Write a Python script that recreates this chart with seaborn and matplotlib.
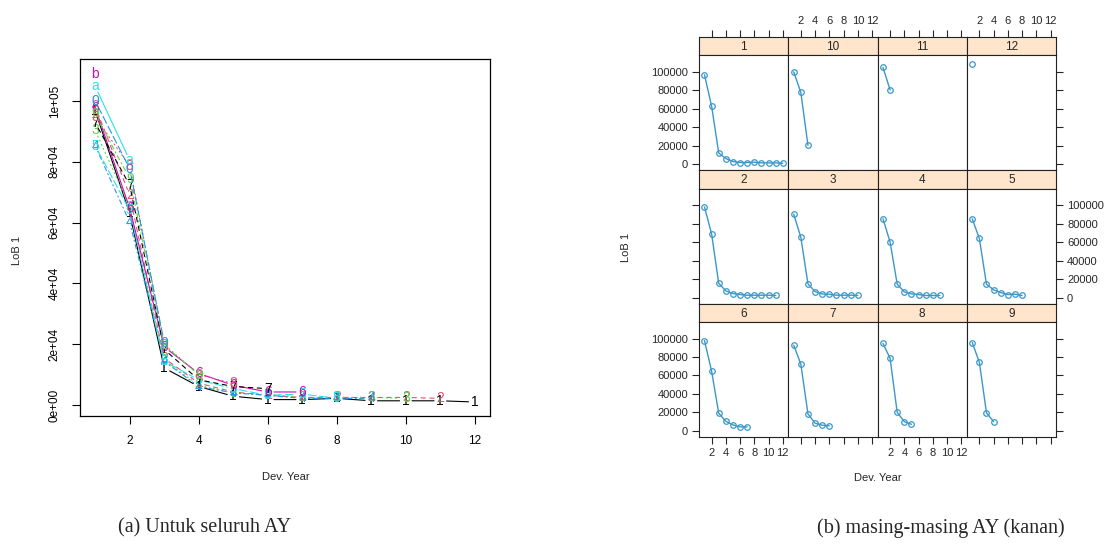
import numpy as np
import pandas as pd
import matplotlib
matplotlib.use("Agg")
import matplotlib.pyplot as plt
import seaborn as sns

# ---------------- data ----------------
accident_years = ["1", "2", "3", "4", "5", "6", "7", "8", "9", "10", "11", "12"]
dev_years = list(range(1, 13))
ay1 = [96800, 63000, 12200, 6100, 2900, 1800, 1800, 2200, 1400, 1400, 1400, 1000]
ay2 = [98200, 69000, 15400, 7200, 4300, 3200, 2500, 2500, 2500, 2500, 2200]
ay3 = [90300, 65200, 14700, 6500, 3900, 3600, 2500, 2500, 2500, 2200]
ay4 = [85300, 60100, 14400, 6100, 4000, 3200, 2200, 2200, 2200]
ay5 = [85300, 64000, 14400, 8300, 5400, 3200, 3600, 2200]
ay6 = [97800, 64700, 19100, 10400, 6500, 4300, 4300]
ay7 = [92800, 72300, 18300, 8300, 6100, 5400]
ay8 = [94700, 78600, 19900, 10000, 7100]
ay9 = [95700, 74400, 19600, 10000]
ay10 = [100000, 77700, 20500]
ay11 = [104800, 80500]
ay12 = [109000]
series = [ay1, ay2, ay3, ay4, ay5, ay6, ay7, ay8, ay9, ay10, ay11, ay12]
point_chars = ["1", "2", "3", "4", "5", "6", "7", "8", "9", "0", "a", "b"]

x_ticks = [2, 4, 6, 8, 10, 12]
y_ticks = [0, 20000, 40000, 60000, 80000, 100000]
y_labels_left = ["0e+00", "2e+04", "4e+04", "6e+04", "8e+04", "1e+05"]
y_labels_lattice = ["0", "20000", "40000", "60000", "80000", "100000"]
panel_order = [["1", "10", "11", "12"], ["2", "3", "4", "5"], ["6", "7", "8", "9"]]

# ---------------- style ----------------
sns.set_style("ticks")
plt.rcParams["font.family"] = ["Liberation Sans", "DejaVu Sans"]

rows = []
for ay, vals in zip(accident_years, series):
    for d, v in zip(dev_years, vals):
        rows.append({"AY": ay, "Dev": d, "Value": v})
df = pd.DataFrame(rows)

W, H = 1110, 552
fig = plt.figure(figsize=(W / 100, H / 100), dpi=100)
fig.patch.set_facecolor("white")


def box(l, t, r, b):
    return [l / W, 1 - b / H, (r - l) / W, (b - t) / H]


# ---------------- left: matplot-like ----------------
axL = fig.add_axes(box(80, 59, 490, 416))
r_palette = ["#000000", "#DF536B", "#61D04F", "#2297E6", "#28E2E5", "#CD0BBC"]
r_ltys = ["-", (0, (4, 4)), (0, (1, 3)), (0, (1, 3, 4, 3)), (0, (7, 3))]
axL.set_xlim(0.56, 12.44)
axL.set_ylim(-3600, 113800)

for i, (ay, vals) in enumerate(zip(accident_years, series)):
    col = r_palette[i % 6]
    lty = r_ltys[i % 5]
    xs = dev_years[:len(vals)]
    for k in range(len(vals) - 1):
        axL.annotate("", xy=(xs[k + 1], vals[k + 1]), xytext=(xs[k], vals[k]),
                     xycoords="data", textcoords="data",
                     arrowprops=dict(arrowstyle="-", shrinkA=4.5, shrinkB=4.5,
                                     color=col, lw=0.8, linestyle=lty))
    for x, v in zip(xs, vals):
        axL.text(x, v, point_chars[i], color=col, fontsize=10,
                 ha="center", va="center")

axL.set_xticks(x_ticks)
axL.set_xticklabels([str(t) for t in x_ticks], fontsize=8.5)
axL.set_yticks(y_ticks)
axL.set_yticklabels(y_labels_left, fontsize=8.5, rotation=90, va="center")
axL.tick_params(axis="x", direction="out", length=6, width=0.8, pad=8, colors="black")
axL.tick_params(axis="y", direction="out", length=6, width=0.8, pad=8, colors="black")
for s in axL.spines.values():
    s.set_visible(True)
    s.set_color("black")
    s.set_linewidth(0.9)
axL.set_xlabel("")
axL.set_ylabel("")

fig.text(286 / W, 1 - 477 / H, "Dev. Year", fontsize=8, ha="center", va="center")
fig.text(17 / W, 1 - 250 / H, "LoB 1", fontsize=8, ha="center", va="center", rotation=90)

# ---------------- right: lattice-like panels ----------------
lat_col = "#3a98c8"
strip_col = "#FFE5CC"
left0, right0 = 699, 1056
pw = (right0 - left0) / 4
top0 = 37
row_h = 400 / 3
strip_h = 18.3
xlim_p = (0.23, 12.77)
ylim_p = (-6660, 118000)

for r in range(3):
    for c in range(4):
        ay = panel_order[r][c]
        l = left0 + c * pw
        t = top0 + r * row_h
        axS = fig.add_axes(box(l, t, l + pw, t + strip_h))
        axP = fig.add_axes(box(l, t + strip_h, l + pw, t + row_h))

        # strip
        axS.set_facecolor(strip_col)
        axS.set_xlim(*xlim_p)
        axS.set_ylim(0, 1)
        axS.set_yticks([])
        axS.text(0.5, 0.45, ay, transform=axS.transAxes, ha="center", va="center",
                 fontsize=8.5)
        if r == 0:
            axS.set_xticks(x_ticks)
            axS.set_xticklabels([str(tk) for tk in x_ticks], fontsize=8)
            axS.tick_params(axis="x", top=True, bottom=False, labeltop=(c in (1, 3)),
                            labelbottom=False, direction="out", length=5, width=0.8, pad=3)
        else:
            axS.set_xticks([])
        for s in axS.spines.values():
            s.set_color("#222222")
            s.set_linewidth(0.8)

        # panel
        sub = df[df["AY"] == ay]
        sns.lineplot(data=sub, x="Dev", y="Value", ax=axP, color=lat_col, lw=1,
                     marker="o", markersize=4, markerfacecolor="none",
                     markeredgecolor=lat_col, markeredgewidth=0.9, legend=False)
        axP.set_xlim(*xlim_p)
        axP.set_ylim(*ylim_p)
        axP.set_xlabel("")
        axP.set_ylabel("")
        axP.set_xticks(x_ticks)
        axP.set_xticklabels([str(tk) for tk in x_ticks], fontsize=8)
        axP.set_yticks(y_ticks)
        axP.set_yticklabels(y_labels_lattice, fontsize=8)
        axP.tick_params(axis="x", bottom=(r == 2), top=False,
                        labelbottom=(r == 2 and c in (0, 2)), labeltop=False,
                        direction="out", length=5, width=0.8, pad=3)
        axP.tick_params(axis="y", left=(c == 0), right=(c == 3),
                        labelleft=(c == 0 and r in (0, 2)),
                        labelright=(c == 3 and r == 1),
                        direction="out", length=5, width=0.8, pad=3)
        for s in axP.spines.values():
            s.set_visible(True)
            s.set_color("#222222")
            s.set_linewidth(0.8)

fig.text(878 / W, 1 - 478 / H, "Dev. Year", fontsize=8, ha="center", va="center")
fig.text(626 / W, 1 - 247 / H, "LoB 1", fontsize=8, ha="center", va="center", rotation=90)

# ---------------- captions ----------------
fig.text(204 / W, 1 - 528 / H, "(a) Untuk seluruh AY", fontsize=14.5,
         family=["Liberation Serif", "DejaVu Serif"], ha="center", va="center")
fig.text(941 / W, 1 - 528 / H, "(b) masing-masing AY (kanan)", fontsize=14.5,
         family=["Liberation Serif", "DejaVu Serif"], ha="center", va="center")

fig.savefig("out.png", dpi=100, facecolor="white")
